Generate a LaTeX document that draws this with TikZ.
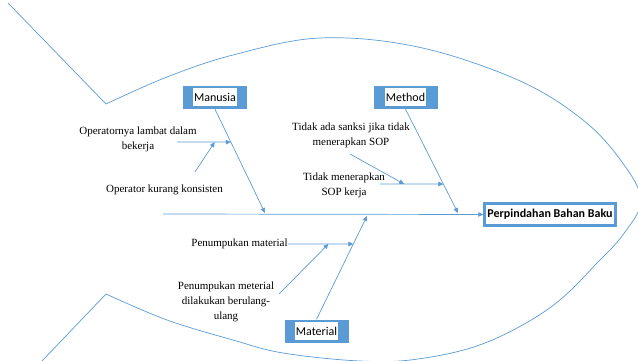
\documentclass[tikz,border=0pt]{standalone}
\usepackage{fontspec}
\setmainfont{Liberation Serif}
\newfontfamily\boxfont{Carlito}
\usetikzlibrary{arrows.meta,calc}
\definecolor{officeblue}{RGB}{91,155,213}
\tikzset{
    fish/.style = {
        draw = officeblue,
        line width = 0.7pt,
        },
    bone/.style = {
        draw = officeblue,
        line width = 0.7pt,
        -{Triangle[length=5pt, width=4.5pt]},
        },
    cause/.style = {
        font = \fontsize{11}{15}\selectfont,
        align = center,
        inner sep = 0pt,
        },
    category/.style = {
        fill = officeblue,
        minimum width = 64pt,
        minimum height = 23pt,
        inner sep = 0pt,
        },
    category text/.style = {
        fill = white,
        font = \boxfont\fontsize{12}{14}\selectfont,
        inner xsep = 1pt,
        inner ysep = 0pt,
        minimum height = 18pt,
        },
}

\begin{document}
\begin{tikzpicture}[
            x=1pt, y=-1pt,
            effect/.style={draw=officeblue, line width=2.5pt, fill=white, minimum width=131pt, minimum height=22pt, inner sep=0pt, font=\boxfont\bfseries\fontsize{12}{14}\selectfont},
            ]
            \useasboundingbox (0,0) rectangle (638,361);
            \clip (0,0) rectangle (638,361);

            % fish outline
            \draw[fish] (8,3) -- plot[smooth, tension=0.6] coordinates {
                (106,104) (167,77) (233,55) (320,38) (418,47) (518,80) (583,120)
                (622,162) (641,200) (625,232) (600,260) (551,307) (485,343) (418,359)
                (360,361) (283,353) (233,340) (167,320) (106,294)} -- (42,361);

            \node[category, label={[category text]center:Manusia}] (manusia) at (215,97.5) {};
            \node[category, label={[category text]center:Method}] (method) at (405.5,97.5) {};
            \node[category, label={[category text]center:Material}] (material) at (316.5,331) {};
            \node[effect] (effect) at (550,214.5) {Perpindahan Bahan Baku};

            \coordinate (head) at (163,214);
            \draw[bone] (head) -- (effect.west);

            % Manusia
            \coordinate (m1) at (265,213);
            \draw[bone] (manusia.south) -- (m1);
            \coordinate (m2) at ($(manusia.south)!0.317!(m1)$);
            \node[cause] (c1) at (138,139) {Operatornya lambat dalam\\bekerja};
            \coordinate (c1 start) at (177,142);
            \draw[bone] (c1 start) -- (m2);
            \coordinate (m3) at ($(c1 start)!0.7!(m2)$);
            \node[cause] (c2) at (164.5,190) {Operator kurang konsisten};
            \coordinate (c2 start) at (195,172);
            \draw[bone] (c2 start) -- (m3);

            % Method
            \coordinate (t1) at (458,213);
            \draw[bone] (method.south) -- (t1);
            \coordinate (t2) at ($(method.south)!0.721!(t1)$);
            \node[cause] (c3) at (344,185) {Tidak menerapkan\\SOP kerja};
            \coordinate (c3 start) at (380,184);
            \draw[bone] (c3 start) -- (t2);
            \coordinate (t3) at ($(c3 start)!0.38!(t2)$);
            \node[cause] (c4) at (351,135) {Tidak ada sanksi jika tidak\\menerapkan SOP};
            \coordinate (c4 start) at (350,154);
            \draw[bone] (c4 start) -- (t3);

            % Material
            \coordinate (r1) at (367,216);
            \draw[bone] (material.north) -- (r1);
            \coordinate (r2) at ($(material.north)!0.729!(r1)$);
            \node[cause] (c5) at (239.5,244) {Penumpukan material};
            \draw[bone] (c5.east) -- (r2);
            \coordinate (r3) at ($(c5.east)!0.62!(r2)$);
            \node[cause] (c6) at (226,302) {Penumpukan meterial\\dilakukan berulang-\\ulang};
            \coordinate (c6 start) at (279,294);
            \draw[bone] (c6 start) -- (r3);
\end{tikzpicture}
\end{document}
